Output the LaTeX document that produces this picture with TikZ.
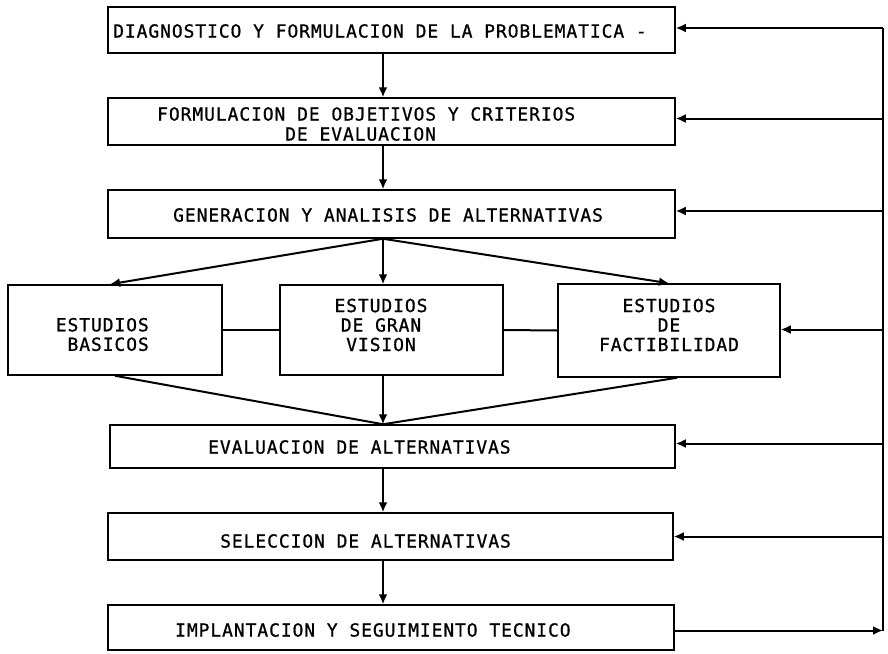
\documentclass[tikz,border=0pt]{standalone}
\usepackage{fontspec}
\newfontfamily\monofnt[LetterSpace=5,FakeBold=0.8]{DejaVu Sans Mono}
\usetikzlibrary{arrows.meta}
\begin{document}
\begin{tikzpicture}[x=1pt,y=1pt,
  box/.style={draw, line width=1.5pt, minimum width=#1, inner sep=0pt},
  txt/.style={inner sep=0pt, font=\monofnt\fontsize{18}{19.5}\selectfont},
  conn/.style={line width=2pt},
  arr/.style={line width=2pt, -{Latex[length=10pt,width=9pt]}}]
\useasboundingbox (0,0) rectangle (888,-653);
\coordinate (C) at (383,0);
\coordinate (R) at (883,0);
% boxes
\node[box=567pt, minimum height=46pt] (b1) at (391.5,-30) {};
\node[box=567pt, minimum height=47pt] (b2) at (391.5,-121.5) {};
\node[box=567pt, minimum height=48pt] (b3) at (391.5,-214) {};
\node[box=214pt, minimum height=90pt] (b4) at (115,-330) {};
\node[box=223pt, minimum height=90pt] (b5) at (391.5,-330) {};
\node[box=222pt, minimum height=93pt] (b6) at (669,-330.5) {};
\node[box=565pt, minimum height=43pt] (b7) at (392.5,-446.5) {};
\node[box=565pt, minimum height=47pt] (b8) at (390.5,-536.5) {};
\node[box=566pt, minimum height=45pt] (b9) at (391,-627.5) {};
% texts
\node[txt, anchor=west] (t1) at (113,-31) {DIAGNOSTICO Y FORMULACION DE LA PROBLEMATICA -};
\node[txt, anchor=west] (t2a) at (157,-114) {FORMULACION DE OBJETIVOS Y CRITERIOS};
\node[txt, anchor=west] (t2b) at (285,-134) {DE EVALUACION};
\node[txt, anchor=west] (t3) at (173,-215) {GENERACION Y ANALISIS DE ALTERNATIVAS};
\node[txt, align=right, anchor=east] (t4) at (149,-334.5) {ESTUDIOS\\BASICOS};
\node[txt, align=center] (t5) at (381,-325) {ESTUDIOS\\DE GRAN\\VISION};
\node[txt, align=center] (t6) at (669,-325) {ESTUDIOS\\DE\\FACTIBILIDAD};
\node[txt, anchor=west] (t7) at (208,-447) {EVALUACION DE ALTERNATIVAS};
\node[txt, anchor=west] (t8) at (220,-541) {SELECCION DE ALTERNATIVAS};
\node[txt, anchor=west] (t9) at (175,-630) {IMPLANTACION Y SEGUIMIENTO TECNICO};
% main flow
\draw[arr] (b1.south -| C) -- (b2.north -| C);
\draw[arr] (b2.south -| C) -- (b3.north -| C);
\coordinate (P) at (b3.south -| C);
\draw[arr] (P) -- (b5.north -| C);
\draw[arr] (P) -- ([xshift=-5pt]b4.north);
\draw[arr] (P) -- (b6.north);
\draw[conn] (b4.east) -- (b5.west);
\draw[conn] (b5.east) -- (b6.west);
\coordinate (Q) at (b7.north -| C);
\draw[arr] (b5.south -| C) -- (Q);
\draw[conn] (b4.south) -- (Q);
\draw[conn] ([xshift=8pt]b6.south) -- (Q);
\draw[arr] (b7.south -| C) -- (b8.north -| C);
\draw[arr] (b8.south -| C) -- (b9.north -| C);
% feedback loop
\coordinate (F9) at ([yshift=-3pt]b9.east);
\draw[arr] (F9) -- (F9 -| R);
\draw[conn] (F9 -| R) -- ([yshift=2pt]b1.east -| R);
\draw[arr] ([yshift=2pt]b1.east -| R) -- ([yshift=2pt]b1.east);
\draw[arr] ([yshift=3pt]b2.east -| R) -- ([yshift=3pt]b2.east);
\draw[arr] ([yshift=3pt]b3.east -| R) -- ([yshift=3pt]b3.east);
\draw[arr] ([yshift=1pt]b6.east -| R) -- ([yshift=1pt]b6.east);
\draw[arr] ([yshift=3pt]b7.east -| R) -- ([yshift=3pt]b7.east);
\draw[arr] (b8.east -| R) -- (b8.east);
\end{tikzpicture}
\end{document}
